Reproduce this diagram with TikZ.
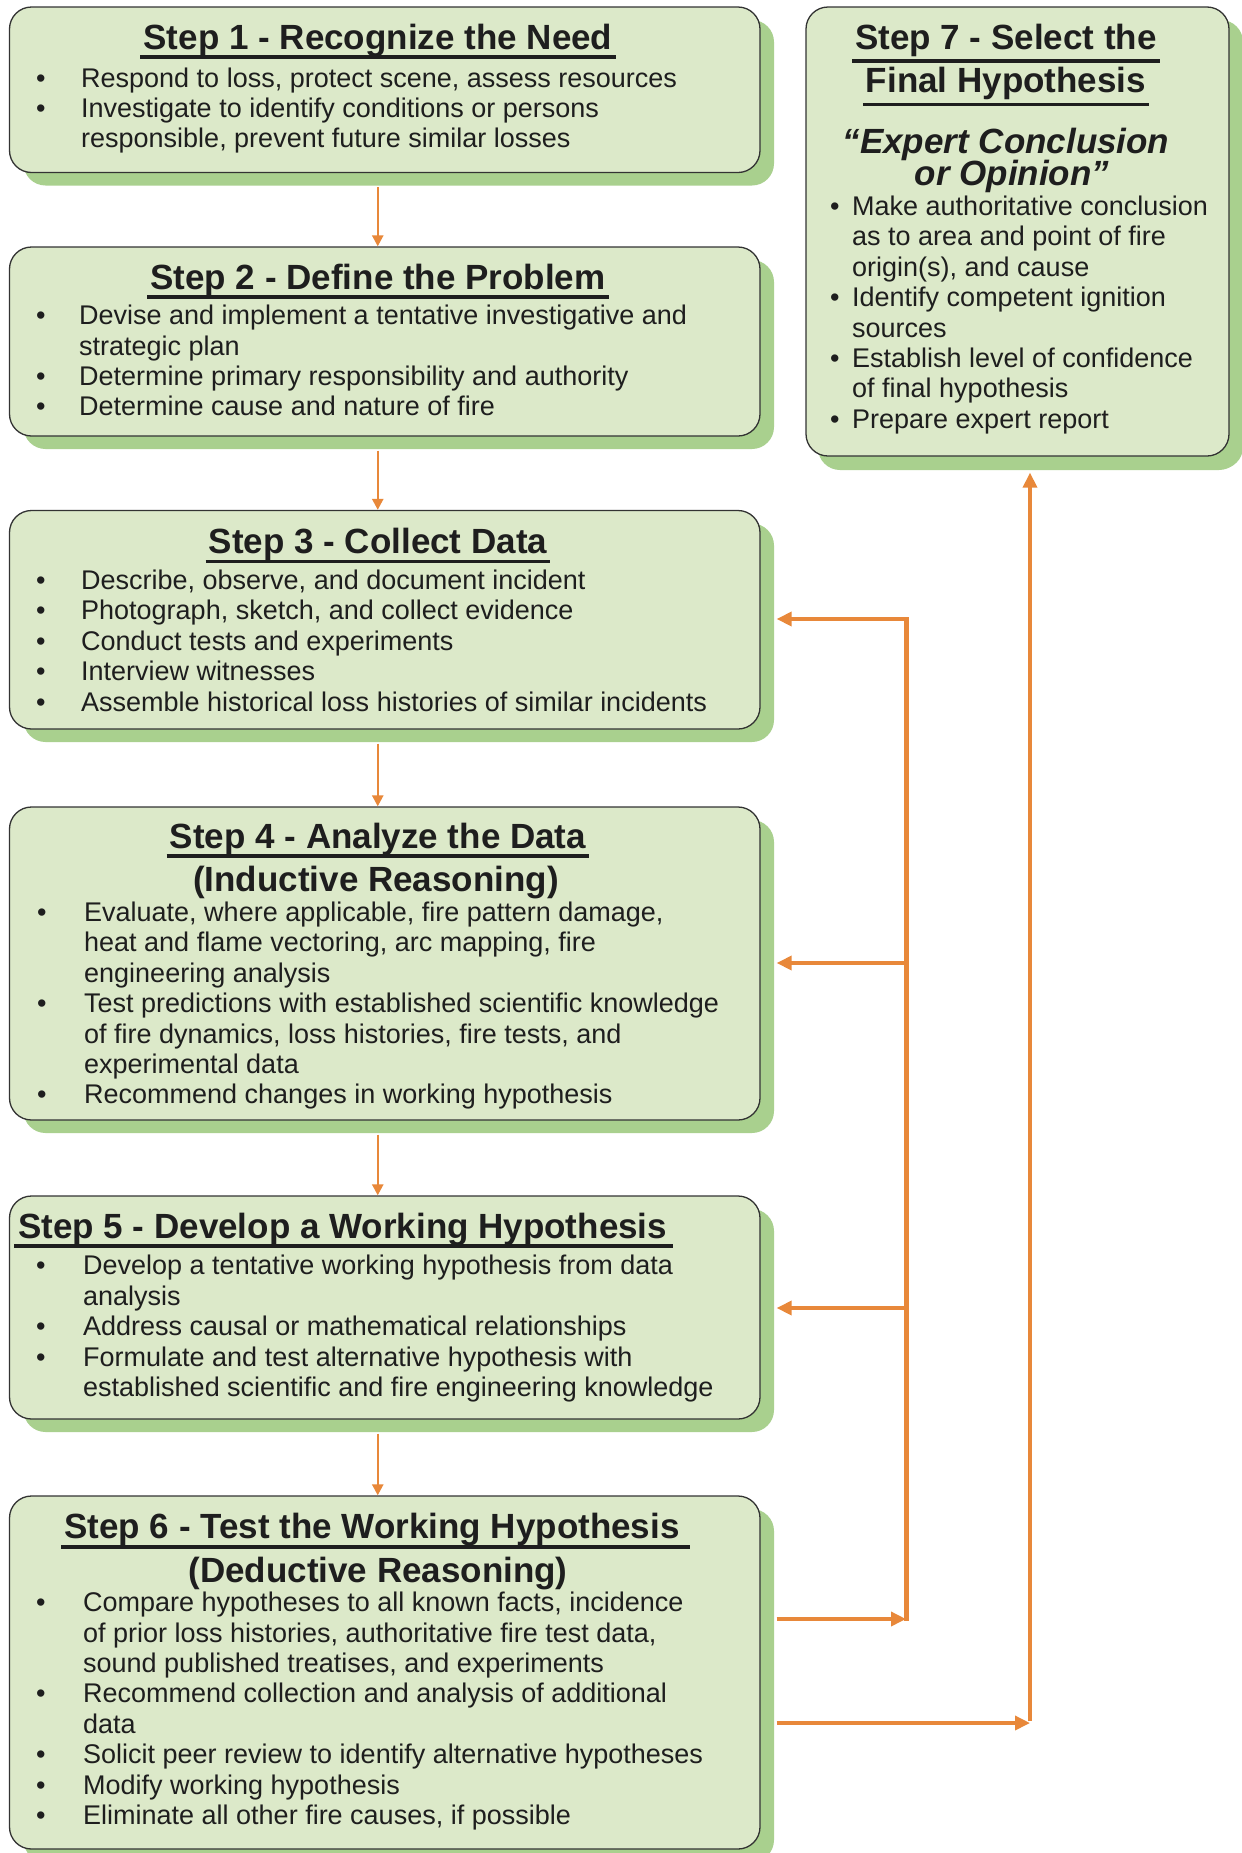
\documentclass[tikz,border=0pt]{standalone}
\usepackage{fontspec}
\setmainfont{Liberation Sans}
\usetikzlibrary{arrows.meta,shadows,calc}
\definecolor{boxfill}{HTML}{DCE9C9}
\definecolor{shgreen}{HTML}{A9D08E}
\definecolor{org}{HTML}{E8883A}
\definecolor{txt}{HTML}{1E1E1E}
\newcommand{\bodyfnt}{\fontsize{27}{30.4}\selectfont}
\newcommand{\ttlfnt}{\fontsize{35}{40}\selectfont\bfseries}
\newcommand{\itfnt}{\fontsize{35}{40}\selectfont\bfseries\itshape}
\newcommand{\bul}[1]{\makebox[#1pt][l]{\textbullet}}
\begin{document}
\begin{tikzpicture}[x=1pt,y=-1pt,
  stepbox/.style={draw=black!80, line width=1.3pt, fill=boxfill, rounded corners=22pt, inner sep=0pt,
    drop shadow={shadow xshift=14pt, shadow yshift=-13pt, fill=shgreen, opacity=1}},
  ln/.style={anchor=base west, inner sep=0pt, font=\bodyfnt, text=txt},
  ttl/.style={anchor=base, inner sep=0pt, font=\ttlfnt, text=txt},
  itl/.style={anchor=base, inner sep=0pt, font=\itfnt, text=txt},
  ul/.style={draw=txt, line width=3.5pt},
  darr/.style={draw=org, line width=2.5pt, -{Triangle[length=11pt,width=11pt]}},
  oarr/.style={draw=org, line width=3.5pt, -{Triangle[length=15pt,width=14pt]}},
  vln/.style={draw=org, line width=5pt}]
\fill[white] (0,0) rectangle (1242,1853);
\useasboundingbox (0,0) rectangle (1242,1853);

% boxes
\node[stepbox, minimum width=750.5pt, minimum height=165.5pt] (b1) at (384.75,89.75) {};
\node[stepbox, minimum width=750.5pt, minimum height=189pt] (b2) at (384.75,341.5) {};
\node[stepbox, minimum width=750.5pt, minimum height=218.5pt] (b3) at (384.75,619.75) {};
\node[stepbox, minimum width=750.5pt, minimum height=313pt] (b4) at (384.75,963.5) {};
\node[stepbox, minimum width=750.5pt, minimum height=223pt] (b5) at (384.75,1307.5) {};
\node[stepbox, minimum width=750.5pt, minimum height=353pt] (b6) at (384.75,1672.5) {};
\node[stepbox, minimum width=423pt, minimum height=449pt, drop shadow={shadow xshift=12pt, shadow yshift=-14pt, fill=shgreen, opacity=1}] (b7) at (1017.5,231.5) {};

% Step 1
\node[ttl] (t1) at (378,49) {Step 1 - Recognize the Need};
\draw[ul] ([xshift=-3pt,yshift=-8pt]t1.base west) -- ([xshift=3pt,yshift=-8pt]t1.base east);
\node[ln] (l1a) at (36,87) {\bul{45}Respond to loss, protect scene, assess resources};
\node[ln] (l1b) at (36,117.4) {\bul{45}Investigate to identify conditions or persons};
\node[ln] (l1c) at (81,147.8) {responsible, prevent future similar losses};

% Step 2
\node[ttl] (t2) at (378,289) {Step 2 - Define the Problem};
\draw[ul] ([xshift=-3pt,yshift=-8pt]t2.base west) -- ([xshift=3pt,yshift=-8pt]t2.base east);
\node[ln] (l2a) at (36,324.7) {\bul{43}Devise and implement a tentative investigative and};
\node[ln] (l2b) at (79,355.1) {strategic plan};
\node[ln] (l2c) at (36,385.5) {\bul{43}Determine primary responsibility and authority};
\node[ln] (l2d) at (36,415.9) {\bul{43}Determine cause and nature of fire};

% Step 3
\node[ttl] (t3) at (378,553.5) {Step 3 - Collect Data};
\draw[ul] ([xshift=-3pt,yshift=-8pt]t3.base west) -- ([xshift=3pt,yshift=-8pt]t3.base east);
\node[ln] (l3a) at (36,589.4) {\bul{45}Describe, observe, and document incident};
\node[ln] (l3b) at (36,619.8) {\bul{45}Photograph, sketch, and collect evidence};
\node[ln] (l3c) at (36,650.2) {\bul{45}Conduct tests and experiments};
\node[ln] (l3d) at (36,680.6) {\bul{45}Interview witnesses};
\node[ln] (l3e) at (36,711) {\bul{45}Assemble historical loss histories of similar incidents};

% Step 4
\node[ttl] (t4) at (378,848) {Step 4 - Analyze the Data};
\draw[ul] ([xshift=-3pt,yshift=-8pt]t4.base west) -- ([xshift=3pt,yshift=-8pt]t4.base east);
\node[ttl] (t4b) at (376,891) {(Inductive Reasoning)};
\node[ln] (l4a) at (37,921.5) {\bul{47}Evaluate, where applicable, fire pattern damage,};
\node[ln] (l4b) at (84,951.9) {heat and flame vectoring, arc mapping, fire};
\node[ln] (l4c) at (84,982.3) {engineering analysis};
\node[ln] (l4d) at (37,1012.7) {\bul{47}Test predictions with established scientific knowledge};
\node[ln] (l4e) at (84,1043.1) {of fire dynamics, loss histories, fire tests, and};
\node[ln] (l4f) at (84,1073.5) {experimental data};
\node[ln] (l4g) at (37,1103.9) {\bul{47}Recommend changes in working hypothesis};

% Step 5
\node[ttl] (t5) at (342.7,1238) {Step 5 - Develop a Working Hypothesis};
\draw[ul] ([xshift=-4pt,yshift=-8pt]t5.base west) -- ([xshift=6pt,yshift=-8pt]t5.base east);
\node[ln] (l5a) at (36,1274.8) {\bul{47}Develop a tentative working hypothesis from data};
\node[ln] (l5b) at (83,1305.2) {analysis};
\node[ln] (l5c) at (36,1335.6) {\bul{47}Address causal or mathematical relationships};
\node[ln] (l5d) at (36,1366) {\bul{47}Formulate and test alternative hypothesis with};
\node[ln] (l5e) at (83,1396.4) {established scientific and fire engineering knowledge};

% Step 6
\node[ttl] (t6) at (372,1538) {Step 6 - Test the Working Hypothesis};
\draw[ul] ([xshift=-3pt,yshift=-9pt]t6.base west) -- ([xshift=10pt,yshift=-9pt]t6.base east);
\node[ttl] (t6b) at (378,1582) {(Deductive Reasoning)};
\node[ln] (l6a) at (36,1611.6) {\bul{47}Compare hypotheses to all known facts, incidence};
\node[ln] (l6b) at (83,1642) {of prior loss histories, authoritative fire test data,};
\node[ln] (l6c) at (83,1672.4) {sound published treatises, and experiments};
\node[ln] (l6d) at (36,1702.8) {\bul{47}Recommend collection and analysis of additional};
\node[ln] (l6e) at (83,1733.2) {data};
\node[ln] (l6f) at (36,1763.6) {\bul{47}Solicit peer review to identify alternative hypotheses};
\node[ln] (l6g) at (36,1794) {\bul{47}Modify working hypothesis};
\node[ln] (l6h) at (36,1824.4) {\bul{47}Eliminate all other fire causes, if possible};

% Step 7
\node[ttl] (t7) at (1006,49) {Step 7 - Select the};
\draw[ul] ([xshift=-3pt,yshift=-12pt]t7.base west) -- ([xshift=3pt,yshift=-12pt]t7.base east);
\node[ttl] (t7b) at (1006,92) {Final Hypothesis};
\draw[ul] ([xshift=-3pt,yshift=-12.5pt]t7b.base west) -- ([xshift=3pt,yshift=-12.5pt]t7b.base east);
\node[itl, text depth=3pt] (t7c) at (1006,153.5) {“Expert Conclusion};
\node[itl, text height=22pt] (t7d) at (1012,185) {or Opinion”};
\node[ln] (l7a) at (830,215.5) {\bul{22}Make authoritative conclusion};
\node[ln] (l7b) at (852,245.9) {as to area and point of fire};
\node[ln] (l7c) at (852,276.3) {origin(s), and cause};
\node[ln] (l7d) at (830,306.7) {\bul{22}Identify competent ignition};
\node[ln] (l7e) at (852,337.1) {sources};
\node[ln] (l7f) at (830,367.5) {\bul{22}Establish level of confidence};
\node[ln] (l7g) at (852,397.9) {of final hypothesis};
\node[ln] (l7h) at (830,428.3) {\bul{22}Prepare expert report};

% downward connectors
\draw[darr] ([xshift=-7pt,yshift=-14pt]b1.south) -- ([xshift=-7pt]b2.north);
\draw[darr] ([xshift=-7pt,yshift=-14pt]b2.south) -- ([xshift=-7pt]b3.north);
\draw[darr] ([xshift=-7pt,yshift=-14pt]b3.south) -- ([xshift=-7pt]b4.north);
\draw[darr] ([xshift=-7pt,yshift=-14pt]b4.south) -- ([xshift=-7pt]b5.north);
\draw[darr] ([xshift=-7pt,yshift=-14pt]b5.south) -- ([xshift=-7pt]b6.north);

% feedback loop
\coordinate (f3) at (906,619);
\coordinate (f4) at (906,963);
\coordinate (f5) at (906,1308);
\coordinate (f6) at (906,1619);
\coordinate (g6) at (1030,1723);
\coordinate (e3) at ([xshift=16pt]b3.east);
\coordinate (e4) at ([xshift=16pt]b4.east);
\coordinate (e5) at ([xshift=16pt]b5.east);
\coordinate (e6) at ([xshift=16pt]b6.east);
\coordinate (s7) at ([yshift=-16pt]b7.south);
\draw[vln] ([yshift=2pt]f3) -- ([yshift=-2pt]f6);
\draw[oarr] (f3) -- (e3 |- f3);
\draw[oarr] (f4) -- (e4 |- f4);
\draw[oarr] (f5) -- (e5 |- f5);
\draw[oarr] (e6 |- f6) -- (f6);
\draw[oarr] (e6 |- g6) -- (g6);
\draw[oarr] ([yshift=1.75pt]g6) -- (g6 |- s7);
\end{tikzpicture}
\end{document}
